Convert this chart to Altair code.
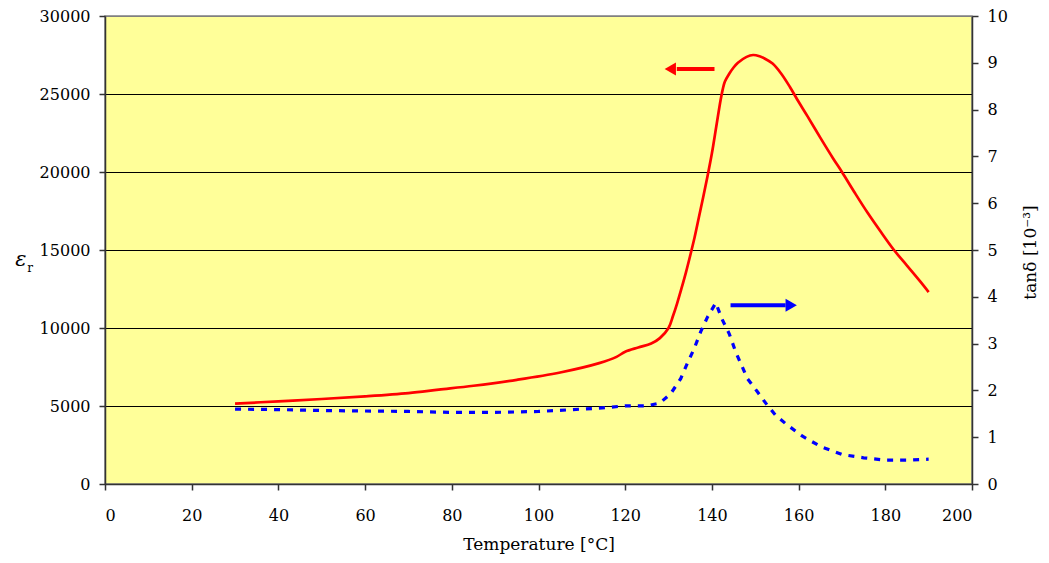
import altair as alt
import pandas as pd

# ---- data ----
temp_er = [30, 40, 50, 60, 70, 77, 85, 95, 105, 114, 118, 120, 123, 126, 128, 130,
           131, 132, 133, 134, 135, 136, 137, 138, 139, 140, 141, 142, 142.5,
           143, 144, 145, 146, 148, 149.5, 151, 152, 154, 156, 158, 160, 162, 165, 168,
           170, 173, 176, 179, 182, 185, 188, 190]
eps_r = [5150, 5300, 5450, 5620, 5830, 6050, 6300, 6680, 7150, 7750, 8150, 8480, 8750,
         9000, 9350, 10000, 10750, 11600, 12550, 13550, 14650, 15800, 17100, 18400,
         19750, 21200, 22900, 24600, 25300, 25800, 26300, 26700, 27000, 27380,
         27500, 27420, 27300, 26950, 26300, 25450, 24500, 23600, 22200, 20850, 20000, 18650,
         17350, 16150, 15000, 14000, 13000, 12300]

temp_tan = [30, 40, 50, 60, 70, 80, 90, 100, 108, 114, 120, 125, 128, 130.5, 132.8,
            134.3, 135.9, 137.4, 139, 140.9, 142.3, 144, 145.5, 148.2, 150.5, 152.8,
            154.7, 157, 160.9, 165.1, 170, 175, 180, 185, 190]
tan_d = [1.60, 1.59, 1.57, 1.56, 1.55, 1.53, 1.53, 1.55, 1.59, 1.62, 1.67, 1.67, 1.73,
         1.93, 2.25, 2.57, 2.89, 3.25, 3.57, 3.87, 3.53, 3.21, 2.82, 2.25, 1.97, 1.68,
         1.47, 1.29, 1.02, 0.80, 0.63, 0.56, 0.51, 0.51, 0.53]

x_ticks = list(range(0, 201, 20))
eps_ticks = list(range(0, 30001, 5000))
tan_ticks = list(range(0, 11))

# annotation arrows (data coordinates)
red_arrow_T = [131.9, 140.6]
red_arrow_eps = 26600
red_head_T = 130.4
blue_arrow_T = [144.3, 157.0]
blue_arrow_tan = 3.82
blue_head_T = 158.3

FONT = "DejaVu Serif"
RED = "#FF0000"
BLUE = "#0000FF"
AXC = "#333333"

df_er = pd.DataFrame({"T": temp_er, "eps": eps_r})
df_tan = pd.DataFrame({"T": temp_tan, "tan": tan_d})
df_red_shaft = pd.DataFrame({"T": [red_arrow_T[0]], "T2": [red_arrow_T[1]], "eps": [red_arrow_eps]})
df_red_head = pd.DataFrame({"T": [red_head_T], "eps": [red_arrow_eps]})
df_blue_shaft = pd.DataFrame({"T": [blue_arrow_T[0]], "T2": [blue_arrow_T[1]], "tan": [blue_arrow_tan]})
df_blue_head = pd.DataFrame({"T": [blue_head_T], "tan": [blue_arrow_tan]})

xscale = alt.Scale(domain=[0, 200], nice=False, zero=False)
eps_scale = alt.Scale(domain=[0, 30000], nice=False)
tan_scale = alt.Scale(domain=[0, 10], nice=False)

x_axis = alt.Axis(values=x_ticks, title="Temperature [°C]", grid=False, format="d",
                  tickSize=6, labelPadding=17, titleY=65,
                  titleBaseline="alphabetic", titleFontSize=17,
                  domainColor=AXC, domainWidth=1.5, tickColor=AXC, tickWidth=1.5)

eps_axis = alt.Axis(values=eps_ticks, title="", orient="left", grid=True, format="d",
                    gridColor=alt.condition("datum.value >= 30000 || datum.value <= 0",
                                            alt.value("#808080"), alt.value("#000000")),
                    gridWidth=1, tickSize=6, labelPadding=9,
                    domainColor=AXC, domainWidth=1.5, tickColor=AXC, tickWidth=1.5)

tan_axis = alt.Axis(values=tan_ticks, title="tanδ [10⁻³]", orient="right", grid=False,
                    format="d", tickSize=6, labelPadding=9, titleAngle=270, titleX=58,
                    titleY=236, titleAlign="center", titleBaseline="middle",
                    titleFontSize=17,
                    domainColor=AXC, domainWidth=1.5, tickColor=AXC, tickWidth=1.5)

red_line = alt.Chart(df_er).mark_line(color=RED, strokeWidth=2.7,
                                      interpolate="catmull-rom").encode(
    x=alt.X("T:Q", scale=xscale, axis=x_axis),
    y=alt.Y("eps:Q", scale=eps_scale, axis=eps_axis),
)
red_shaft = alt.Chart(df_red_shaft).mark_rule(color=RED, strokeWidth=4).encode(
    x=alt.X("T:Q", scale=xscale), x2="T2:Q", y=alt.Y("eps:Q", scale=eps_scale)
)
red_head = alt.Chart(df_red_head).mark_point(shape="triangle-left", filled=True, size=170,
                                              color=RED, opacity=1).encode(
    x=alt.X("T:Q", scale=xscale), y=alt.Y("eps:Q", scale=eps_scale)
)
eps_sym = alt.Chart(pd.DataFrame({"t": ["ε"]})).mark_text(
    font=FONT, fontSize=21, fontStyle="italic", color="black", align="center", baseline="middle"
).encode(text="t:N", x=alt.value(-84), y=alt.value(244))
eps_sub = alt.Chart(pd.DataFrame({"t": ["r"]})).mark_text(
    font=FONT, fontSize=12, color="black", align="center", baseline="middle"
).encode(text="t:N", x=alt.value(-75), y=alt.value(252))

left = alt.layer(red_line, red_shaft, red_head, eps_sym, eps_sub)

blue_line = alt.Chart(df_tan).mark_line(color=BLUE, strokeWidth=3.2, strokeDash=[6, 7]).encode(
    x=alt.X("T:Q", scale=xscale, axis=x_axis),
    y=alt.Y("tan:Q", scale=tan_scale, axis=tan_axis),
)
blue_shaft = alt.Chart(df_blue_shaft).mark_rule(color=BLUE, strokeWidth=4).encode(
    x=alt.X("T:Q", scale=xscale), x2="T2:Q", y=alt.Y("tan:Q", scale=tan_scale)
)
blue_head = alt.Chart(df_blue_head).mark_point(shape="triangle-right", filled=True, size=170,
                                                color=BLUE, opacity=1).encode(
    x=alt.X("T:Q", scale=xscale), y=alt.Y("tan:Q", scale=tan_scale)
)

right = alt.layer(blue_line, blue_shaft, blue_head)

chart = alt.layer(left, right).resolve_scale(y="independent").properties(
    width=867, height=468,
    padding={"left": 97, "top": 8, "right": 69, "bottom": 71},
    autosize=alt.AutoSizeParams(type="none"),
    background="white",
).configure_view(
    fill="#FFFF99", stroke="#808080", strokeWidth=1.5
).configure_axis(
    labelFont=FONT, titleFont=FONT, labelFontSize=16, labelColor="black",
    titleColor="black", titleFontWeight="normal"
)

chart.save("out.html", embed_options={"renderer": "svg", "actions": False})
